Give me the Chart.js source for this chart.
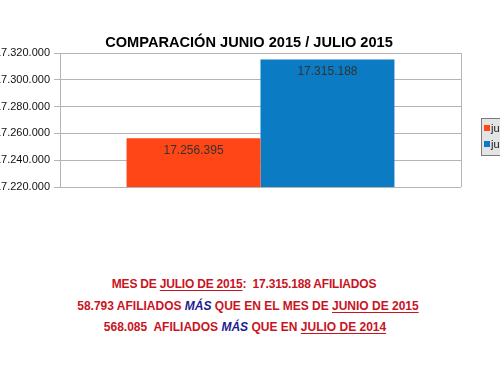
<!DOCTYPE html>
<html>
<head>
<meta charset="utf-8">
<script src="https://cdn.jsdelivr.net/npm/chart.js@4"></script>
<style>
  html, body { margin: 0; padding: 0; background: #fff; overflow: hidden; }
  #wrap { position: relative; width: 500px; height: 368px; }
  #grafico { position: absolute; left: 0; top: 0; }
  .nota {
    position: absolute; left: 0; width: 500px; text-align: center;
    font-family: "Liberation Sans", Arial, sans-serif; font-weight: bold;
    font-size: 12px; color: #c8141e; white-space: nowrap;
  }
  .nota u { text-decoration-thickness: 1px; text-underline-offset: 2px; }
  .mas { color: #1c1c8e; font-style: italic; }
</style>
</head>
<body>
<div id="wrap">
  <canvas id="grafico" width="500" height="250"></canvas>
  <div class="nota" style="top:277px;left:-6px;letter-spacing:-0.2px">MES DE <u>JULIO DE 2015</u>:&nbsp; 17.315.188 AFILIADOS</div>
  <div class="nota" style="top:299px;left:-2px;letter-spacing:0px">58.793 AFILIADOS <span class="mas">MÁS</span> QUE EN EL MES DE <u>JUNIO DE 2015</u></div>
  <div class="nota" style="top:320px;left:-5px;letter-spacing:0px">568.085&nbsp; AFILIADOS <span class="mas">MÁS</span> QUE EN <u>JULIO DE 2014</u></div>
</div>
<script>
// --- DATOS ---
const categorias = [''];
const series = ['junio 2015', 'julio 2015'];
const afiliadosJunio = [17256395];
const afiliadosJulio = [17315188];
const colores = ['#ff4616', '#0b7bc4'];
const titulo = 'COMPARACIÓN JUNIO 2015 / JULIO 2015';
const ejeMin = 17220000;
const ejeMax = 17320000;
const ejePaso = 20000;

function formatoMiles(v) {
    return Math.round(v).toString().replace(/\B(?=(\d{3})+(?!\d))/g, '.');
}

// etiquetas de valor dentro de cada barra
const etiquetasBarras = {
    id: 'etiquetasBarras',
    afterDatasetsDraw(chart) {
        const ctx = chart.ctx;
        ctx.save();
        ctx.font = '12px "Liberation Sans", Arial, sans-serif';
        ctx.fillStyle = '#333';
        ctx.textAlign = 'center';
        ctx.textBaseline = 'middle';
        chart.data.datasets.forEach((ds, i) => {
            chart.getDatasetMeta(i).data.forEach((bar, j) => {
                ctx.fillText(formatoMiles(ds.data[j]), bar.x, bar.y + 12);
            });
        });
        ctx.restore();
    }
};

// titulo, borde derecho del area y leyenda recortada a la derecha
const marcoYLeyenda = {
    id: 'marcoYLeyenda',
    beforeDatasetsDraw(chart) {
        const a = chart.chartArea;
        const ctx = chart.ctx;
        ctx.save();
        ctx.strokeStyle = '#b4b4b4';
        ctx.lineWidth = 1;
        ctx.beginPath();
        ctx.moveTo(Math.round(a.right) + 0.5, a.top);
        ctx.lineTo(Math.round(a.right) + 0.5, a.bottom);
        ctx.stroke();
        ctx.restore();
    },
    afterDraw(chart) {
        const ctx = chart.ctx;
        ctx.save();
        ctx.font = 'bold 14.6px "Liberation Sans", Arial, sans-serif';
        ctx.fillStyle = '#000';
        ctx.textAlign = 'center';
        ctx.textBaseline = 'middle';
        ctx.fillText(titulo, 249, 43);

        const x = 481, y = 118;
        ctx.textAlign = 'left';
        ctx.fillStyle = '#e4e4e4';
        ctx.strokeStyle = '#7a7a7a';
        ctx.fillRect(x, y, 80, 37);
        ctx.strokeRect(x + 0.5, y + 0.5, 80, 37);
        ctx.font = '11px "Liberation Sans", Arial, sans-serif';
        chart.data.datasets.forEach((ds, i) => {
            const yy = y + 10 + i * 16;
            ctx.fillStyle = ds.backgroundColor;
            ctx.fillRect(x + 3, yy - 3, 6, 6);
            ctx.fillStyle = '#111';
            ctx.fillText(ds.label, x + 10, yy + 1);
        });
        ctx.restore();
    }
};

new Chart(document.getElementById('grafico'), {
    type: 'bar',
    data: {
        labels: categorias,
        datasets: [
            { label: series[0], data: afiliadosJunio, backgroundColor: colores[0] },
            { label: series[1], data: afiliadosJulio, backgroundColor: colores[1] }
        ]
    },
    options: {
        responsive: false,
        animation: false,
        categoryPercentage: 0.668,
        barPercentage: 1,
        layout: { padding: { top: 53, right: 39, bottom: 63, left: 0 } },
        plugins: {
            legend: { display: false },
            tooltip: { enabled: false },
            title: { display: false }
        },
        scales: {
            x: { display: false },
            y: {
                min: ejeMin,
                max: ejeMax,
                afterFit(scale) { scale.width = 60; },
                ticks: {
                    stepSize: ejePaso,
                    color: '#111',
                    padding: 4,
                    font: { family: '"Liberation Sans", Arial, sans-serif', size: 11 },
                    callback: v => formatoMiles(v)
                },
                grid: { color: '#b4b4b4', tickLength: 6 },
                border: { color: '#b4b4b4' }
            }
        }
    },
    plugins: [etiquetasBarras, marcoYLeyenda]
});
</script>
</body>
</html>
